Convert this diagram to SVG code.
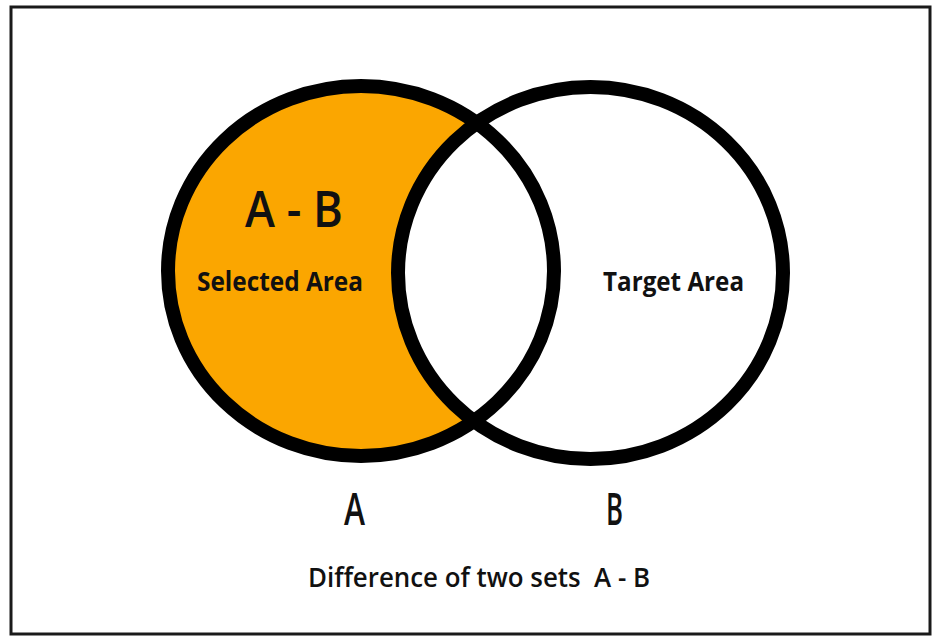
<svg xmlns="http://www.w3.org/2000/svg" width="933" height="639" viewBox="0 0 933 639">
  <style>
    .ring { fill: none; stroke: #000; stroke-width: 14; }
    .t { font-family: "Open Sans", "Liberation Sans", sans-serif; fill: #111; text-anchor: middle; }
    .b { font-weight: 700; }
    .sb { font-weight: 600; }
  </style>
  <rect x="0" y="0" width="933" height="639" fill="#fff"/>
  <rect id="frame" x="11" y="7" width="919" height="627" fill="none" stroke="#1a1a1a" stroke-width="3"/>
  <g id="fills">
    <ellipse cx="361" cy="271" rx="193" ry="185" fill="#FBA600"/>
    <ellipse cx="590.5" cy="273" rx="192.5" ry="186" fill="#fff"/>
  </g>
  <g id="setA">
    <ellipse class="ring" cx="361" cy="271" rx="193" ry="185"/>
    <text class="t sb" x="294" y="227" font-size="50" textLength="98" lengthAdjust="spacingAndGlyphs">A - B</text>
    <text class="t b" x="280" y="291" font-size="26" textLength="166" lengthAdjust="spacingAndGlyphs">Selected Area</text>
    <text class="t sb" x="354.5" y="525" font-size="46" textLength="21" lengthAdjust="spacingAndGlyphs">A</text>
  </g>
  <g id="setB">
    <ellipse class="ring" cx="590.5" cy="273" rx="192.5" ry="186"/>
    <text class="t b" x="673.5" y="291" font-size="26" textLength="141" lengthAdjust="spacingAndGlyphs">Target Area</text>
    <text class="t sb" x="614.5" y="525" font-size="46" textLength="17" lengthAdjust="spacingAndGlyphs">B</text>
  </g>
  <g id="connectors"/>
  <g id="caption">
    <text class="t sb" x="479" y="587" font-size="27" textLength="342" lengthAdjust="spacingAndGlyphs" xml:space="preserve" style="white-space:pre">Difference of two sets  A - B</text>
  </g>
</svg>
